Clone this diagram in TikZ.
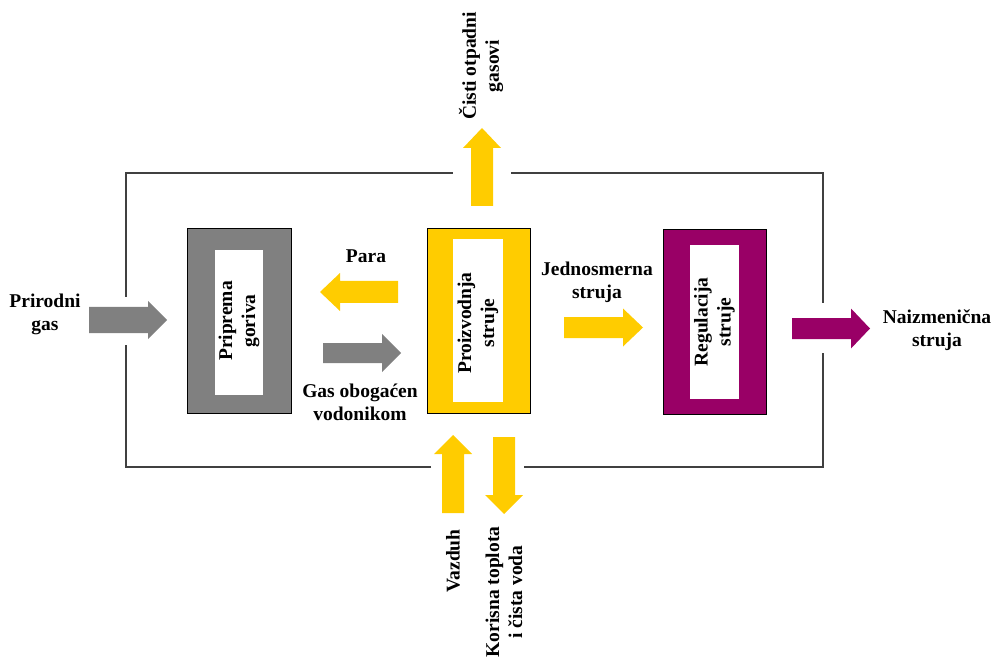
\documentclass[tikz,border=0pt]{standalone}
\usepackage{fontspec}
\setmainfont{Liberation Serif}
\definecolor{cgray}{HTML}{808080}
\definecolor{cyel}{HTML}{FFCC00}
\definecolor{cpur}{HTML}{990066}
\definecolor{cline}{HTML}{404040}
% horizontal block arrow: tail x, head-base x, tip x, centre y, body half, head half
\newcommand\hblockarrow[7]{%
  \fill[#1] (#2,#5-#6) -- (#3,#5-#6) -- (#3,#5-#7) -- (#4,#5) -- (#3,#5+#7) -- (#3,#5+#6) -- (#2,#5+#6) -- cycle;}
% vertical block arrow: tail y, head-base y, tip y, centre x, body half, head half
\newcommand\vblockarrow[7]{%
  \fill[#1] (#5-#6,#2) -- (#5-#6,#3) -- (#5-#7,#3) -- (#5,#4) -- (#5+#7,#3) -- (#5+#6,#3) -- (#5+#6,#2) -- cycle;}
\begin{document}
\begin{tikzpicture}[x=1pt,y=-1pt,
  lbl/.style={font=\fontsize{19.5}{23}\selectfont\bfseries, align=center, inner sep=0pt},
  outerbox/.style={draw=black, line width=0.8pt, minimum width=#1, inner sep=0pt},
  innerbox/.style={fill=white, inner sep=0pt},
  frame/.style={draw=cline, line width=1.2pt}]
\useasboundingbox (0,0) rectangle (993,660);

% frame with gaps
\coordinate (lt) at (126,173);
\coordinate (rt) at (823,173);
\coordinate (lb) at (126,467);
\coordinate (rb) at (823,467);
\coordinate (gtl) at (453,173);
\coordinate (gtr) at (511,173);
\coordinate (gbl) at (431,467);
\coordinate (gbr) at (524,467);
\coordinate (gl1) at (126,297);
\coordinate (gl2) at (126,345);
\coordinate (gr1) at (823,303);
\coordinate (gr2) at (823,353);
\draw[frame] (gl1) -- (lt) -- (gtl);
\draw[frame] (gtr) -- (rt) -- (gr1);
\draw[frame] (gr2) -- (rb) -- (gbr);
\draw[frame] (gbl) -- (lb) -- (gl2);

% boxes
\node[outerbox=104pt, fill=cgray, minimum height=185pt] (prip) at (239,320.5) {};
\node[innerbox, minimum width=48pt, minimum height=145pt] (pripin) at (239,322.5) {};
\node[lbl, rotate=90] (priptxt) at (239,321) {Priprema\\goriva};

\node[outerbox=103pt, fill=cyel, minimum height=185pt] (proiz) at (478.5,320.5) {};
\node[innerbox, minimum width=50pt, minimum height=163pt] (proizin) at (478,320.5) {};
\node[lbl, rotate=90] (proiztxt) at (478,323) {Proizvodnja\\struje};

\node[outerbox=103pt, fill=cpur, minimum height=185pt] (reg) at (714.5,321.5) {};
\node[innerbox, minimum width=49pt, minimum height=154pt] (regin) at (714.5,322) {};
\node[lbl, rotate=90] (regtxt) at (714.5,322) {Regulacija\\struje};

% arrows
\hblockarrow{cgray}{89}{148}{167}{320}{13}{19}
\hblockarrow{cyel}{398}{340}{320}{292}{11}{19}
\hblockarrow{cgray}{323}{382}{401}{353}{10}{19}
\hblockarrow{cyel}{564}{623}{643}{327.5}{10.5}{19}
\hblockarrow{cpur}{792}{851}{870}{328.5}{10.5}{20}
\vblockarrow{cyel}{206}{148}{128}{482}{11}{19}
\vblockarrow{cyel}{513}{454}{435}{453}{11}{19}
\vblockarrow{cyel}{437}{495}{514}{504}{11}{19}

% labels
\node[lbl] (prirodni) at (45,314) {Prirodni\\gas};
\node[lbl] (para) at (366,256) {Para};
\node[lbl] (gasob) at (360,402) {Gas obogaćen\\vodonikom};
\node[lbl] (jedn) at (597,282) {Jednosmerna\\struja};
\node[lbl] (naiz) at (937,330) {Naizmenična\\struja};
\node[lbl, rotate=90] (cisti) at (481,66) {Čisti otpadni\\gasovi};
\node[lbl, rotate=90] (vazduh) at (453,561) {Vazduh};
\node[lbl, rotate=90] (korisna) at (504,592) {Korisna toplota\\i čista voda};
\end{tikzpicture}
\end{document}
